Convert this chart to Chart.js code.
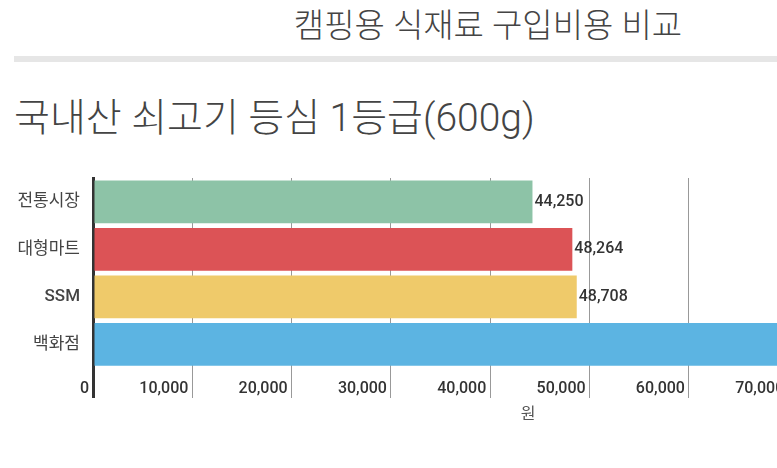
<!DOCTYPE html>
<html><head><meta charset="utf-8">
<script src="https://cdn.jsdelivr.net/npm/chart.js@4/dist/chart.umd.min.js"></script>
<style>
html,body{margin:0;padding:0;background:#fff;overflow:hidden;width:777px;height:468px;}
#wrap{position:relative;width:976px;height:468px;}
#title{position:absolute;left:0;top:6px;width:976px;text-align:center;font-family:Roboto,"Noto Sans CJK KR",sans-serif;font-weight:300;font-size:33px;line-height:40px;color:#444;}
#rule{position:absolute;left:14px;top:56px;width:962px;height:6px;background:#e6e6e6;}
#sub{position:absolute;left:14px;top:95px;font-family:Roboto,"Noto Sans CJK KR",sans-serif;font-weight:300;font-size:39px;line-height:46px;color:#444;white-space:nowrap;}
#cv{position:absolute;left:0;top:160px;}
</style></head>
<body><div id="wrap">
<div id="title">캠핑용 식재료 구입비용 비교</div>
<div id="rule"></div>
<div id="sub">국내산 쇠고기 등심 1등급(600g)</div>
<canvas id="cv" width="976" height="270"></canvas>
</div>
<script>
const categories = ['전통시장', '대형마트', 'SSM', '백화점'];
const prices = [44250, 48264, 48708, 85000];
const barColors = ['#8dc3a7', '#dc5356', '#efca6a', '#5cb4e2'];
const tickValues = [0, 10000, 20000, 30000, 40000, 50000, 60000, 70000, 80000];
const axisTitle = '원';
const xMax = 87600;

const fmt = v => Number(v).toLocaleString('en-US');
const FONT = "Roboto, 'Noto Sans CJK KR', sans-serif";

const valueLabels = {
  id: 'valueLabels',
  afterDatasetsDraw(chart) {
    const ctx = chart.ctx;
    const meta = chart.getDatasetMeta(0);
    ctx.save();
    ctx.font = "500 16px " + FONT;
    ctx.fillStyle = '#333';
    ctx.textAlign = 'left';
    ctx.textBaseline = 'middle';
    meta.data.forEach((bar, i) => {
      ctx.fillText(fmt(chart.data.datasets[0].data[i]), bar.x + 2, bar.y);
    });
    ctx.restore();
  }
};

new Chart(document.getElementById('cv'), {
  type: 'bar',
  data: {
    labels: categories,
    datasets: [{
      data: prices,
      backgroundColor: barColors,
      borderWidth: 0,
      barPercentage: 0.9,
      categoryPercentage: 1
    }]
  },
  options: {
    indexAxis: 'y',
    responsive: false,
    animation: false,
    devicePixelRatio: 1,
    layout: { padding: { top: 18, right: 13, left: 0, bottom: 0 } },
    plugins: { legend: { display: false }, tooltip: { enabled: false } },
    scales: {
      x: {
        min: 0, max: xMax,
        afterBuildTicks: s => { s.ticks = tickValues.map(v => ({ value: v })); },
        border: { display: false },
        grid: {
          drawTicks: true,
          tickLength: 30,
          color: ctx => ctx.tick && ctx.tick.value === 0 ? '#333' : '#999',
          lineWidth: ctx => ctx.tick && ctx.tick.value === 0 ? 3 : 1
        },
        ticks: {
          align: 'end',
          padding: -19,
          color: '#333',
          font: { family: FONT, size: 16, weight: '500' },
          callback: v => fmt(v) + ' '
        },
        title: {
          display: true, text: axisTitle, color: '#555',
          font: { family: FONT, size: 16 },
          padding: { top: 0, bottom: 5 }
        },
        afterFit: s => { s.height = 62; }
      },
      y: {
        border: { display: true, color: '#333', width: 3 },
        grid: { display: false },
        ticks: {
          color: '#444', padding: 5,
          font: ctx => ({ family: FONT, size: 17,
            weight: /^[A-Za-z]+$/.test(categories[ctx.index] || '') ? '500' : '400' })
        },
        afterFit: s => { s.width = 93; }
      }
    }
  },
  plugins: [valueLabels]
});
</script>
</body></html>
